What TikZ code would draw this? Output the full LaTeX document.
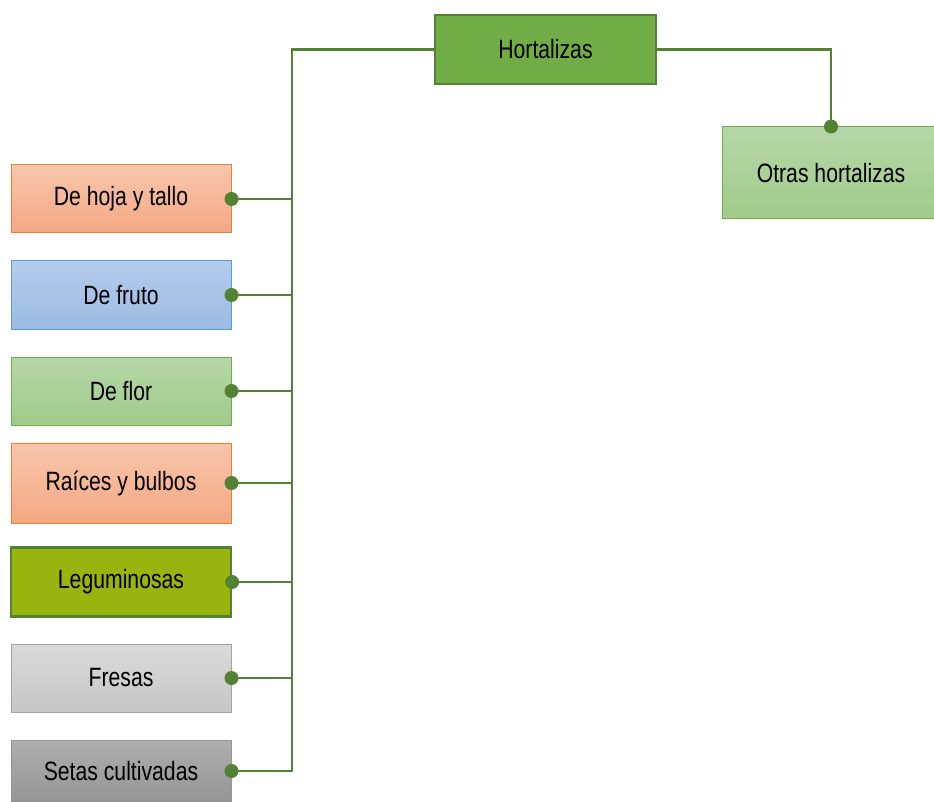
\documentclass[tikz,border=0pt]{standalone}
\usepackage{fontspec}
\setmainfont[FakeStretch=0.8]{Liberation Sans}
\definecolor{lineg}{HTML}{548235}
\definecolor{hortfill}{HTML}{70AD47}
\definecolor{greenT}{HTML}{B6D7A8}
\definecolor{greenB}{HTML}{A0CB8A}
\definecolor{greenD}{HTML}{70AD47}
\definecolor{orT}{HTML}{F8C6AC}
\definecolor{orB}{HTML}{F4A883}
\definecolor{orD}{HTML}{ED7D31}
\definecolor{blT}{HTML}{B5CCEB}
\definecolor{blB}{HTML}{9BBBE3}
\definecolor{blD}{HTML}{5B9BD5}
\definecolor{legfill}{HTML}{9AB40F}
\definecolor{grT}{HTML}{DADADA}
\definecolor{grB}{HTML}{C6C6C6}
\definecolor{grD}{HTML}{A5A5A5}
\definecolor{dgT}{HTML}{AEAEAE}
\definecolor{dgB}{HTML}{959595}
\begin{document}
\begin{tikzpicture}[x=1pt,y=-1pt,
  box/.style={rectangle, inner sep=0pt, font=\fontsize{26.5}{30}\selectfont, text=black},
  leftbox/.style={box, minimum width=220pt, minimum height=68pt},
  conn/.style={draw=lineg, line width=2.4pt},
  dot/.style={fill=lineg}]
\useasboundingbox (0,0) rectangle (934,802);
\node[box, fill=hortfill, draw=lineg, line width=2.2pt, minimum width=221pt, minimum height=69pt] (hort) at (545.5,49.5) {Hortalizas};
\node[box, top color=greenT, bottom color=greenB, draw=greenD, line width=1pt, minimum width=218pt, minimum height=92pt] (otras) at (831,173) {Otras hortalizas};
\node[leftbox, top color=orT, bottom color=orB, draw=orD, line width=1pt] (hoja) at (121,199) {De hoja y tallo};
\node[leftbox, top color=blT, bottom color=blB, draw=blD, line width=1pt] (fruto) at (121,295) {De fruto};
\node[leftbox, top color=greenT, bottom color=greenB, draw=greenD, line width=1pt] (flor) at (121,391) {De flor};
\node[leftbox, minimum height=80pt, top color=orT, bottom color=orB, draw=orD, line width=1pt] (raices) at (121,483) {Raíces y bulbos};
\node[leftbox, minimum height=69pt, fill=legfill, draw=lineg, line width=2.2pt] (legum) at (121,582) {Leguminosas};
\node[leftbox, top color=grT, bottom color=grB, draw=grD, line width=1pt] (fresas) at (121,678) {Fresas};
\node[leftbox, minimum height=62pt, top color=dgT, bottom color=dgB, draw=dgB, line width=1pt] (setas) at (121,771) {Setas cultivadas};
\coordinate (ttop) at (292,49.5);
\draw[conn] (hort.west) -- (ttop) |- (setas.east);
\foreach \n in {hoja,fruto,flor,raices,legum,fresas}{
  \draw[conn] (\n.east) -- (\n.east -| ttop);
}
\draw[conn] (hort.east) -| (otras.north);
\foreach \n in {hoja,fruto,flor,raices,legum,fresas,setas}{
  \fill[dot] (\n.east) circle (7);
}
\fill[dot] (otras.north) circle (7);
\end{tikzpicture}
\end{document}
